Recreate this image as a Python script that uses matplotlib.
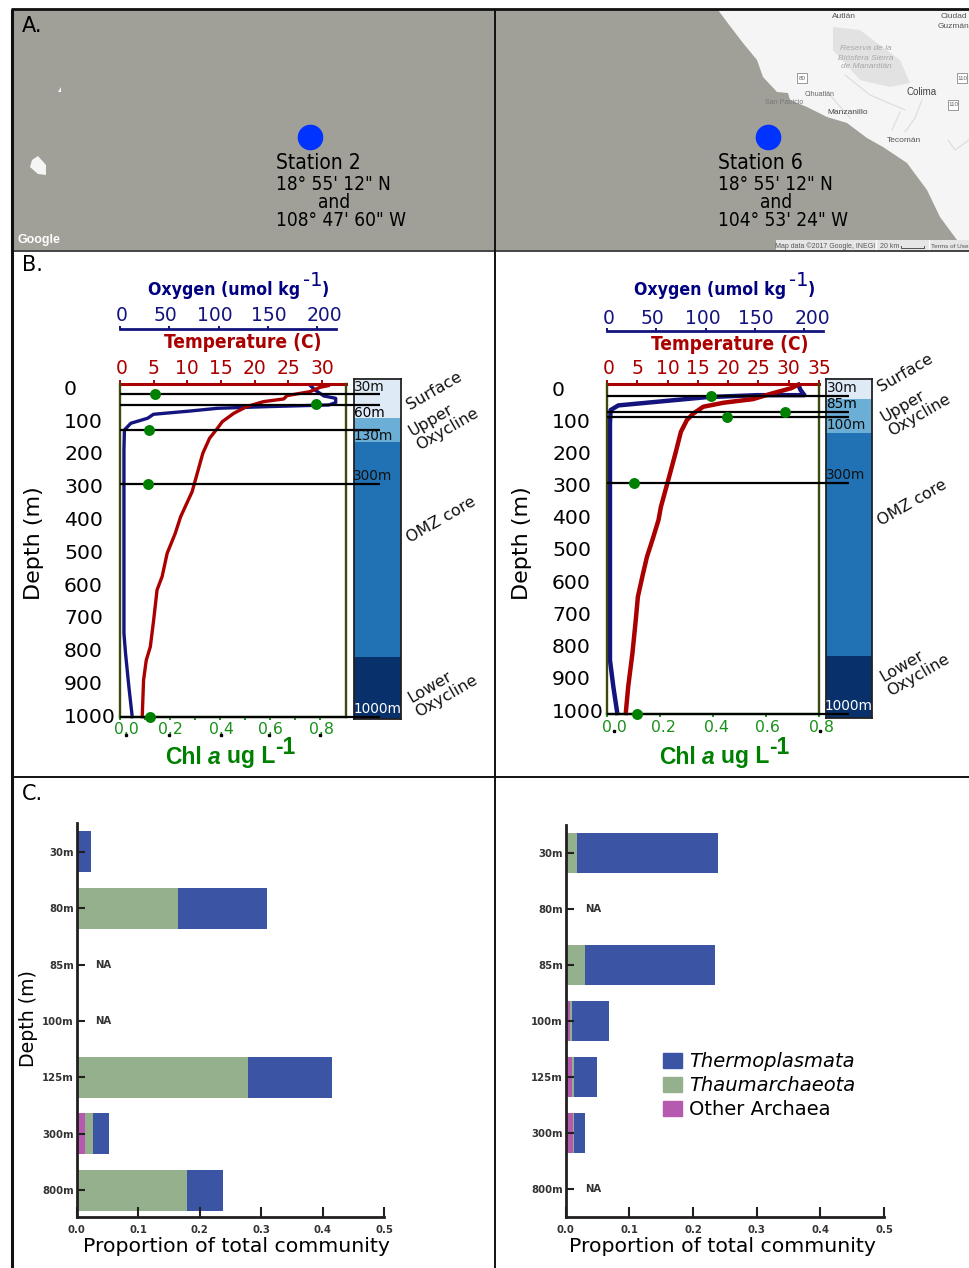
import matplotlib
matplotlib.use("Agg")
import matplotlib.pyplot as plt
from matplotlib import font_manager as fm
from matplotlib.patches import Patch, Polygon, Rectangle
from matplotlib.transforms import ScaledTranslation

W, H = 969, 1268

# ---------- data ----------
depth_ticks = [0, 100, 200, 300, 400, 500, 600, 700, 800, 900, 1000]
oxy_ticks = [0, 50, 100, 150, 200]

s2_temp = [30.9, 29.7, 28.2, 24.8, 24.3, 21.3, 18.8, 16.9, 15.2, 14.4, 13.3, 12.3, 11.2, 10.7, 9.0, 8.2, 7.0, 6.25, 5.5, 5.0, 4.5, 3.9, 3.5, 3.3]
s2_temp_d = [5, 10, 23, 35, 45, 53, 68, 88, 113, 135, 163, 208, 288, 324, 399, 449, 509, 579, 619, 709, 790, 830, 890, 1000]
s2_oxy = [193, 198, 207, 219, 219, 212, 150, 99, 72, 34, 28, 11, 4.5, 4, 4, 4, 5.6, 9, 12.4]
s2_oxy_d = [4, 18, 36, 43, 56, 63, 68, 73, 81, 91, 103, 118, 138, 198, 409, 749, 809, 910, 1000]
s2_chl = [0.14, 0.785, 0.116, 0.112, 0.12]
s2_chl_d = [30, 61, 137, 300, 1000]
s2_lines = [30, 63, 137, 300, 1000]
s2_zone_edges = [-18, 102, 174, 820, 1007]
s2_chl_ticks = [0, .1, .2, .3, .4, .5, .6, .7, .8]
s2_chl_labels = ["0.0", "", "0.2", "", "0.4", "", "0.6", "", "0.8"]
s2_temp_ticks = [0, 5, 10, 15, 20, 25, 30]

s6_temp = [31.5, 30.4, 27.4, 24.1, 19.2, 15.9, 14.3, 13.2, 12.2, 11.3, 10.2, 8.9, 8.5, 7.5, 6.6, 5.9, 5.1, 4.75, 4.2, 3.5, 3.1]
s6_temp_d = [4, 14, 29, 47, 58, 70, 90, 110, 146, 211, 286, 373, 413, 473, 524, 579, 645, 715, 816, 917, 997]
s6_oxy = [194, 196, 200, 152, 101, 43.6, 11.5, 3.7, 3, 3, 3, 6.4, 10.4]
s6_oxy_d = [4, 19, 35, 35, 41, 57, 66, 80, 120, 413, 837, 917, 997]
s6_chl = [0.392, 0.672, 0.453, 0.10, 0.113]
s6_chl_d = [37, 85, 100, 300, 1000]
s6_lines = [37, 85, 100, 300, 1000]
s6_zone_edges = [-14, 47, 149, 824, 1010]
s6_chl_ticks = [0, .2, .4, .6, .8]
s6_chl_labels = ["0.0", "0.2", "0.4", "0.6", "0.8"]
s6_temp_ticks = [0, 5, 10, 15, 20, 25, 30, 35]

zone_colors = ["#deebf7", "#6baed6", "#2171b5", "#08306b"]

c_depths = ["30m", "80m", "85m", "100m", "125m", "300m", "800m"]
left_other = [0, 0, 0, 0, 0, 0.0136, 0]
left_thaum = [0.001, 0.1645, 0, 0, 0.279, 0.013, 0.18]
left_thermo = [0.0223, 0.1455, 0, 0, 0.137, 0.0261, 0.058]
left_na = ["85m", "100m"]
right_other = [0, 0, 0.001, 0.006, 0.0105, 0.012, 0]
right_thaum = [0.0183, 0, 0.03, 0.0045, 0.0031, 0.0016, 0]
right_thermo = [0.2217, 0, 0.203, 0.0581, 0.0361, 0.0174, 0]
right_na = ["80m", "800m"]

coast_x = [718, 733, 743, 757, 763, 777, 788, 790, 807, 827, 847, 867, 883, 907, 927, 940, 957, 969, 969]
coast_y = [10, 30, 43, 60, 77, 92, 93, 100, 107, 117, 123, 138, 147, 163, 190, 217, 240, 250, 10]


# ---------- fonts ----------
def cond(weight="normal"):
    """A condensed face: DejaVu Sans Condensed when it exists, otherwise another condensed family."""
    p = fm.FontProperties(family="DejaVu Sans", stretch="condensed", weight=weight)
    if "Condensed" in fm.findfont(p):
        return p
    names = {f.name for f in fm.fontManager.ttflist}
    for alt in ("Fira Sans Condensed", "IBM Plex Sans Condensed", "Encode Sans Condensed"):
        if alt in names:
            return fm.FontProperties(family=alt, weight=weight)
    return fm.FontProperties(family="DejaVu Sans", weight=weight)


COND_R = cond("normal")
COND_B = cond("bold")

# ---------- helpers ----------
fig = plt.figure(figsize=(W / 100, H / 100), dpi=100, facecolor="white")
PT = 0.72


def px_axes(x0, x1, ytop, ybot, z=1):
    a = fig.add_axes([x0 / W, 1 - ybot / H, (x1 - x0) / W, (ybot - ytop) / H], zorder=z)
    a.patch.set_alpha(0)
    return a


def overlay(z):
    a = px_axes(0, W, 0, H, z)
    a.set_xlim(0, W)
    a.set_ylim(H, 0)
    a.axis("off")
    return a


def shift_labels(labels, shifts):
    for t, dx in zip(labels, shifts):
        t.set_transform(t.get_transform() + ScaledTranslation(dx / 100, 0, fig.dpi_scale_trans))


bg = overlay(0)
fg = overlay(20)


def ctext(x, y, s, size, **kw):
    p = (kw.pop("fp", COND_R)).copy()
    p.set_size(size)
    fg.text(x, y, s, fontproperties=p, va="center", **kw)


# ---------- panel A ----------
SEA = "#a0a098"
bg.add_patch(Rectangle((12, 9), W - 12, 241, fc=SEA, ec="none"))
bg.add_patch(Polygon(list(zip(coast_x, coast_y)), fc="#f5f5f5", ec="none"))
bg.add_patch(Polygon([(833, 27), (860, 30), (877, 43), (900, 60), (910, 83), (890, 87), (860, 80), (833, 50)], fc="#e2e2e2", ec="none"))
bg.add_patch(Polygon([(32, 160), (38, 156), (46, 165), (46, 175), (38, 174), (30, 167)], fc="#f5f5f5", ec="none"))
bg.add_patch(Polygon([(58, 92), (61, 87), (61, 92)], fc="#f5f5f5", ec="none"))
bg.add_patch(Rectangle((776, 240), 193, 10, fc="#e6e6e6", ec="none"))
for xs, ys in [((922, 915, 905), (100, 118, 132)), ((900, 892), (112, 130)), ((948, 955, 969), (140, 150, 140)),
               ((845, 870, 905), (75, 95, 110)), ((830, 850), (95, 118))]:
    bg.plot(xs, ys, color="#dcdcdc", lw=0.8)
for x, y in [(802, 78), (962, 78), (953, 105)]:
    bg.add_patch(Rectangle((x - 5, y - 5), 10, 10, fc="white", ec="#888888", lw=0.6))
for x, y, t, c, s, st in [
    (844, 17, "Autlán", "#555555", 6, "normal"), (954, 17, "Ciudad", "#555555", 6, "normal"),
    (954, 27, "Guzmán", "#555555", 6, "normal"), (866, 48, "Reserva de la", "#a8a8a8", 6, "italic"),
    (866, 58, "Biósfera Sierra", "#a8a8a8", 6, "italic"), (866, 67, "de Manantlán", "#a8a8a8", 6, "italic"),
    (820, 95, "Cihuatlán", "#666666", 5, "normal"), (784, 103, "San Patricio", "#777777", 5, "normal"),
    (848, 113, "Manzanillo", "#444444", 6, "normal"), (922, 92, "Colima", "#444444", 7, "normal"),
    (904, 140, "Tecomán", "#555555", 6, "normal"), (802, 78, "80", "#666666", 4.5, "normal"),
    (962, 78, "110", "#666666", 4.5, "normal"), (953, 105, "110", "#666666", 4.5, "normal"),
    (825, 246, "Map data ©2017 Google, INEGI", "#555555", 5, "normal"),
    (890, 246, "20 km", "#555555", 5, "normal"), (950, 246, "Terms of Use", "#555555", 4.6, "normal"),
]:
    fg.text(x, y, t, color=c, fontsize=s, style=st, ha="center", va="center", family="Liberation Sans")
bg.plot([901, 901, 924, 924], [246, 248, 248, 246], color="#555555", lw=0.7)
bg.plot([876, 876], [240, 250], color="white", lw=0.8)
bg.plot([929, 929], [240, 250], color="white", lw=0.8)
fg.text(39, 240, "Google", color="white", fontsize=9, ha="center", va="center", family="Liberation Sans", weight="bold")
fg.text(22, 26, "A.", fontsize=15, va="center")
fg.text(22, 265, "B.", fontsize=15, va="center")
fg.text(22, 794, "C.", fontsize=15, va="center")
bg.scatter([310.5, 768], [137, 137], s=340, c="#0033ff", zorder=3, linewidths=0)
for x0, lines in [(276, ["Station 2", "18° 55' 12\" N", "108° 47' 60\" W"]), (718, ["Station 6", "18° 55' 12\" N", "104° 53' 24\" W"])]:
    ctext(x0, 163, lines[0], 15)
    ctext(x0, 185, lines[1], 13.7)
    ctext(x0 + 42, 202, "and", 13.7)
    ctext(x0, 220, lines[2], 13.7)

# frame lines
for xs, ys, lw in [((11, W), (9, 9), 2), ((12.5, 12.5), (9, H), 2.2), ((495.5, 495.5), (9, H), 1.4),
                   ((12, W), (250.5, 250.5), 1.1), ((12, W), (776.5, 776.5), 1.4)]:
    fg.plot(xs, ys, color="#111111", lw=lw, solid_capstyle="butt")


# ---------- panel B ----------
def station(x0, x1, oxy_x1, ytop, ybot, oxy_y, oxy_per, temp0, temp_per, temp_ticks, chl0, chl_per, chl_ticks, chl_labels, chl_shift,
            temp, temp_d, oxy, oxy_d, chl, chl_d, lines, line_x1, zone_x0, zone_x1, zone_top, zone_bot, edges,
            label_top, label_bot, label_x, ylab_x, lw, top_pad, oxy_shift):
    # depth labels
    lab = px_axes(x0, x1, label_top, label_bot, 5)
    lab.set_ylim(1000, 0)
    lab.set_yticks(depth_ticks)
    lab.set_xticks([])
    for s in lab.spines.values():
        s.set_visible(False)
    lab.tick_params(axis="y", length=0, labelsize=14.7, pad=(x0 - label_x) * PT)
    for t in lab.get_yticklabels():
        t.set_ha("left")
    fg.text(ylab_x, 543, "Depth (m)", fontsize=16, rotation=90, ha="center", va="center")

    # chlorophyll axes (bottom + frame)
    ax = px_axes(x0, x1, ytop, ybot, 8)
    ax.set_ylim(1000, 0)
    ax.set_xlim((x0 - chl0) / chl_per, (x1 - chl0) / chl_per)
    ax.set_yticks([])
    ax.set_xticks(chl_ticks)
    ax.set_xticklabels(chl_labels)
    ax.tick_params(axis="x", colors="#1a8f1a", length=2.5, width=1.4, labelsize=11.3, pad=1.5)
    shift_labels([t for t in ax.get_xticklabels() if t.get_text()], chl_shift)
    for s in ax.spines.values():
        s.set_color("#3c4a10")
        s.set_linewidth(1.7)
    ax.spines["bottom"].set_color("#2c6a10")
    ax.spines["top"].set_visible(False)
    ax.scatter(chl, chl_d, s=62, c="#008000", zorder=6, clip_on=False, linewidths=0)
    ax.hlines(lines, 0, (line_x1 - x0) / (x1 - x0), transform=ax.get_yaxis_transform(), color="black", lw=1.6, clip_on=False, zorder=5)

    # temperature
    at = px_axes(x0, x1, ytop, ybot, 7)
    at.set_ylim(1000, 0)
    at.set_xlim((x0 - temp0) / temp_per, (x1 - temp0) / temp_per)
    at.plot(temp, temp_d, color="#aa0000", lw=lw, clip_on=False)
    at.xaxis.tick_top()
    at.set_xticks(temp_ticks)
    at.set_yticks([])
    at.tick_params(axis="x", colors="#aa0000", length=3, width=1.4, labelsize=13.5, pad=top_pad)
    shift_labels(at.get_xticklabels(), [2])
    for k, s in at.spines.items():
        s.set_visible(k == "top")
    at.spines["top"].set_color("#aa0000")
    at.spines["top"].set_linewidth(2.2)

    # oxygen
    ao = px_axes(x0, oxy_x1, ytop, ybot, 6)
    ao.set_ylim(1000, 0)
    ao.set_xlim(0, (oxy_x1 - x0) / oxy_per)
    ao.plot(oxy, oxy_d, color="#14147f", lw=lw, clip_on=False)
    ao.xaxis.tick_top()
    ao.set_xticks(oxy_ticks)
    ao.set_yticks([])
    ao.tick_params(axis="x", colors="#14147f", length=2, width=1.4, labelsize=13.5, pad=top_pad - 0.5)
    for k, s in ao.spines.items():
        s.set_visible(k == "top")
    ao.spines["top"].set_position(("outward", (ytop - oxy_y) * PT))
    ao.spines["top"].set_color("#14147f")
    ao.spines["top"].set_linewidth(2)
    shift_labels(ao.get_xticklabels(), oxy_shift)

    # zones
    z = px_axes(zone_x0, zone_x1, zone_top, zone_bot, 4)
    z.set_xlim(0, 1)
    z.set_ylim(edges[-1], edges[0])
    for i, c in enumerate(zone_colors):
        z.bar(0.5, edges[i + 1] - edges[i], bottom=edges[i], width=1, color=c, linewidth=0)
    z.set_xticks([])
    z.set_yticks([])
    for s in z.spines.values():
        s.set_color("#222222")
        s.set_linewidth(1.3)


station(120, 346, 336, 384, 716.7, 329, 0.985, 119.5, 6.75, s2_temp_ticks, 120, 250, s2_chl_ticks, s2_chl_labels, [6, 0, 1, 0, 1],
        s2_temp, s2_temp_d, s2_oxy, s2_oxy_d, s2_chl, s2_chl_d, s2_lines, 380,
        354, 401, 378.5, 719, s2_zone_edges, 387.5, 715, 64, 34, 2.4, 1.5, [2, -4, -4, 1, 7])
station(607, 819, 823, 383.6, 714, 331, 0.987, 606, 6.1, s6_temp_ticks, 607, 265, s6_chl_ticks, s6_chl_labels, [7, 3, 3, 1, 2],
        s6_temp, s6_temp_d, s6_oxy, s6_oxy_d, s6_chl, s6_chl_d, s6_lines, 849,
        826, 872, 379, 718, s6_zone_edges, 388, 710, 552, 522, 3.2, 0.8, [2, -4, -3, 1, 8])

# black specks under chl axis
fg.plot([126, 169, 221, 269, 320, 614, 820], [735, 735, 735, 735, 735, 731, 731], ls="none", marker="s", ms=1.8, color="black")

# axis titles
for x, y in [(148, 290), (634, 290)]:
    ctext(x, y, "Oxygen (umol kg", 12.7, fp=COND_B, color="#000080")
    fg.text(x + 155, y - 10, "-1", color="#000080", fontsize=14, va="center")
    ctext(x + 174, y, ")", 12.7, fp=COND_B, color="#000080")
for x, y in [(164, 342), (651, 345)]:
    ctext(x, y, "Temperature (C)", 13.7, fp=COND_B, color="#aa0000")
for x, y in [(165, 757), (659, 757)]:
    L = dict(family="Liberation Sans", weight="bold", color="#008000", fontsize=16.5, va="center")
    fg.text(x, y, "Chl", **L)
    fg.text(x + 43, y, "a", style="italic", **L)
    fg.text(x + 62, y, "ug L", **L)
    fg.text(x + 110, y - 9, "-1", **L)

# zone text
for x, y, t, c in [(369, 387, "30m", "#111111"), (369, 413, "60m", "black"), (373, 436, "130m", "#111111"), (373, 476, "300m", "#111111"), (378, 709, "1000m", "white"),
                   (842, 388, "30m", "#111111"), (842, 404, "85m", "black"), (846, 425, "100m", "#111111"), (846, 475, "300m", "#111111"), (849, 706, "1000m", "white")]:
    fg.text(x, y, t, color=c, fontsize=9.8, ha="center", va="center")
for x, y, t in [(434.5, 391, "Surface"), (443.6, 422, "Upper\nOxycline"), (441, 520, "OMZ core"), (443, 689, "Lower\nOxycline"),
                (905.5, 373, "Surface"), (915.6, 408, "Upper\nOxycline"), (912, 503, "OMZ core"), (915, 668, "Lower\nOxycline")]:
    fg.text(x, y, t, fontsize=11.5, rotation=30, ha="center", va="center", multialignment="left", linespacing=1.05,
            rotation_mode="anchor", color="#111111")

# ---------- panel C ----------
BLUE, GREEN, PURPLE = "#3b54a4", "#94b08c", "#b65ab0"


def community(x0, x1, ytop, ybot, ylim, other, thaum, thermo, na, na_x):
    a = px_axes(x0, x1, ytop, ybot, 3)
    pos = list(range(len(c_depths)))
    a.barh(pos, other, height=0.73, color=PURPLE, linewidth=0)
    a.barh(pos, thaum, left=other, height=0.73, color=GREEN, linewidth=0)
    a.barh(pos, thermo, left=[p + q for p, q in zip(other, thaum)], height=0.73, color=BLUE, linewidth=0)
    a.set_ylim(*ylim)
    a.set_xlim(0, 0.5)
    a.set_yticks(pos)
    a.set_yticklabels(c_depths, fontsize=7.3, weight="bold", color="#333333")
    a.set_xticks([0, .1, .2, .3, .4, .5])
    a.set_xticklabels(["0.0", "0.1", "0.2", "0.3", "0.4", "0.5"], fontsize=7.3, weight="bold", color="#333333")
    a.tick_params(axis="y", direction="in", length=5.5, width=1.5, color="#231f20", pad=2)
    a.tick_params(axis="x", direction="in", length=7, width=1.5, color="#231f20", pad=6)
    for k, s in a.spines.items():
        s.set_visible(k in ("left", "bottom"))
        s.set_linewidth(2)
        s.set_color("#231f20")
    for d in na:
        a.text(na_x, c_depths.index(d), "NA", fontsize=7.3, weight="bold", color="#333333", va="center", ha="center")
    return a


aL = community(76.7, 384, 823, 1217, (6.477, -0.509), left_other, left_thaum, left_thermo, left_na, 0.044)
aR = community(565.7, 884, 825, 1217, (6.5, -0.5), right_other, right_thaum, right_thermo, right_na, 0.043)
fg.text(236, 1246, "Proportion of total community", fontsize=14.7, ha="center", va="center")
fg.text(722, 1246, "Proportion of total community", fontsize=14.7, ha="center", va="center")
fg.text(29, 1019, "Depth (m)", fontsize=13.6, rotation=90, ha="center", va="center")

leg = aR.legend(handles=[Patch(color=BLUE, label="Thermoplasmata"), Patch(color=GREEN, label="Thaumarchaeota"), Patch(color=PURPLE, label="Other Archaea")],
                loc="upper left", bbox_to_anchor=((663 - 565.7) / 318.3, (1217 - 1052) / 392), borderaxespad=0, borderpad=0,
                frameon=False, fontsize=14, handlelength=0.98, handleheight=0.85, handletextpad=0.35, labelspacing=0.26)
for t in leg.get_texts()[:2]:
    t.set_style("italic")

fig.savefig("out.png", dpi=100)
